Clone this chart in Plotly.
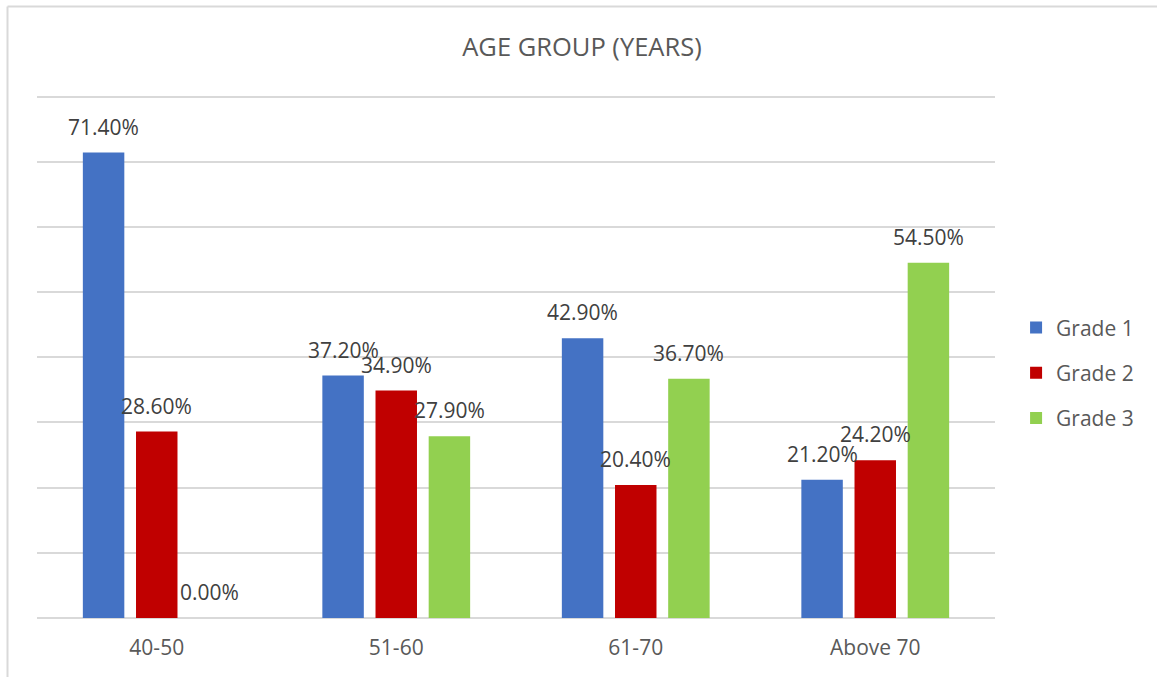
import plotly.graph_objects as go

categories = ["40-50", "51-60", "61-70", "Above 70"]
series_names = ["Grade 1", "Grade 2", "Grade 3"]
grade1 = [71.4, 37.2, 42.9, 21.2]
grade2 = [28.6, 34.9, 20.4, 24.2]
grade3 = [0.0, 27.9, 36.7, 54.5]
colors = ["#4472C4", "#C00000", "#92D050"]

series_values = [grade1, grade2, grade3]

W, H = 1157, 677
Y_TOP = 81
ML, MR, MB = 37, 162, 59
px_per_unit = (618 - 97) / 80
plot_h = Y_TOP * px_per_unit
MT = H - MB - plot_h
plot_w = W - ML - MR
BARGAP = 0.334
BARGROUPGAP = 0.22
FONT = "Open Sans"

fig = go.Figure()
for name, vals, col in zip(series_names, series_values, colors):
    fig.add_trace(go.Bar(
        x=categories, y=vals, name=name, marker_color=col,
        marker_line_width=0, legendgroup=name, hoverinfo="skip",
    ))

# data labels above bars (Excel "outside end" style)
band = plot_w / len(categories)
slot = band * (1 - BARGAP) / len(series_names)
for i, vals in enumerate(series_values):
    for cat, v in zip(categories, vals):
        fig.add_annotation(
            x=cat, y=v, xref="x", yref="y", text=f"{v:.2f}%",
            showarrow=False, xshift=(i - 1) * slot, yshift=26,
            yanchor="middle", xanchor="center",
            font=dict(family=FONT, size=21, color="#404040"),
        )

# chart-area border (left and top edges visible)
bx = (7.5 - ML) / plot_w
by = (plot_h + MT - 7) / plot_h
fig.add_shape(type="line", xref="paper", yref="paper", x0=bx, x1=(W - ML) / plot_w + 0.05,
              y0=by, y1=by, line=dict(color="#d9d9d9", width=2))
fig.add_shape(type="line", xref="paper", yref="paper", x0=bx, x1=bx,
              y0=by, y1=-(MB + 5) / plot_h, line=dict(color="#d9d9d9", width=2))

fig.update_layout(
    width=W, height=H,
    margin=dict(l=ML, r=MR, t=MT, b=MB, autoexpand=False),
    paper_bgcolor="white", plot_bgcolor="white",
    barmode="group", bargap=BARGAP, bargroupgap=BARGROUPGAP,
    title=dict(text="AGE GROUP (YEARS)", x=0.503, xref="container", xanchor="center",
               y=1 - 47 / H, yref="container", yanchor="middle",
               font=dict(family=FONT, size=25.5, color="#595959")),
    font=dict(family=FONT, color="#595959"),
    legend=dict(x=1.022, xanchor="left", y=(618 - 373) / plot_h, yanchor="middle",
                traceorder="grouped", tracegroupgap=15,
                font=dict(family=FONT, size=21, color="#595959")),
    showlegend=True,
)
fig.update_yaxes(range=[0, Y_TOP], tick0=0, dtick=10, showticklabels=False, showgrid=True,
                 gridcolor="#d9d9d9", gridwidth=1.5, zeroline=True,
                 zerolinecolor="#d9d9d9", zerolinewidth=1.5, fixedrange=True)
fig.update_xaxes(showgrid=False, ticks="", ticklabelstandoff=15,
                 tickfont=dict(family=FONT, size=21, color="#595959"),
                 showline=False, fixedrange=True)

fig.write_html("out.html")
